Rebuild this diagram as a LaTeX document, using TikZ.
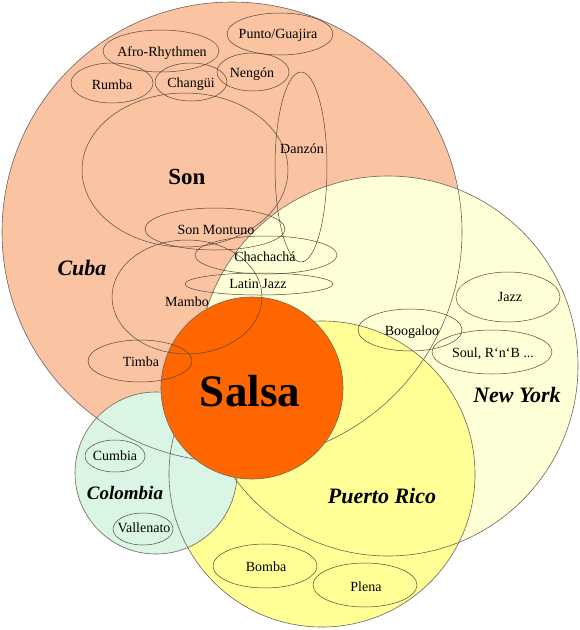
\documentclass[tikz,border=0pt]{standalone}
\usepackage{fontspec}
\setmainfont{Liberation Serif}
\usepackage{tikz}
\usepackage{xcolor}
\usetikzlibrary{calc}

\definecolor{cubaC}{RGB}{250,196,162}
\definecolor{nyC}{RGB}{255,255,215}
\definecolor{prC}{RGB}{255,255,150}
\definecolor{colC}{RGB}{218,245,228}
\definecolor{salsaC}{RGB}{255,102,0}
\definecolor{rimC}{RGB}{110,100,90}
\definecolor{genreC}{RGB}{85,70,60}

\begin{document}
\begin{tikzpicture}[x=1pt,y=-1pt]
        \tikzstyle{every node}=[inner sep=0pt, text height=9.2pt, text depth=0pt, font=\fontsize{14}{14}\selectfont]
        \tikzstyle{region}=[text height=14.5pt, font=\fontsize{22}{22}\selectfont\bfseries\itshape]
        \tikzstyle{rim}=[draw=rimC, line width=0.6pt]
        \tikzstyle{genre}=[draw=genreC, line width=0.5pt]

            \useasboundingbox (0,0) rectangle (580,630);
            \fill[white] (0,0) rectangle (580,630);

            \coordinate (CU) at (232,232);
            \coordinate (NY) at (388,366);
            \coordinate (PR) at (322,474);
            \coordinate (CO) at (156,473);
            \coordinate (SA) at (252,388);

            \fill[cubaC] (CU) circle (230);
            \fill[nyC] (NY) circle (190);
            \fill[prC] (PR) circle (153);
            \fill[colC] (CO) circle (81);

            \draw[rim] (CU) circle (230);
            \draw[rim] (NY) circle (190);
            \draw[rim] (PR) circle (153);
            \draw[rim] (CO) circle (81);

            \draw[rim, fill=salsaC] (SA) circle (91);

            % Cuba
            \draw[genre] (161,51) ellipse (58 and 21);
            \draw[genre] (280,34) ellipse (53 and 21);
            \draw[genre] (112,83) ellipse (41 and 20);
            \draw[genre] (191,82) ellipse (36 and 19);
            \draw[genre] (253,72) ellipse (36 and 19);
            \draw[genre] (301,167) ellipse (26 and 95);
            \draw[genre] (185,170) ellipse (103 and 77);
            \draw[genre] (215,229) ellipse (70 and 21);
            \draw[genre] (266,255) ellipse (71 and 19);
            \draw[genre] (259,284) ellipse (74 and 11);
            \draw[genre] (187,297) ellipse (75 and 57);
            \draw[genre] (140,361) ellipse (52 and 21);

            % New York
            \draw[genre] (508,297) ellipse (52 and 25);
            \draw[genre] (410,330) ellipse (52 and 21);
            \draw[genre] (492,352) ellipse (60 and 22);

            % Colombia, Puerto Rico
            \draw[genre] (115,456) ellipse (30 and 16);
            \draw[genre] (143,529) ellipse (30 and 16);
            \draw[genre] (265,566) ellipse (52 and 22);
            \draw[genre] (365,585) ellipse (52 and 22);

            \node (Afro) at (162,52) {Afro-Rhythmen};
            \node (Punto) at (278,34) {Punto/Guajira};
            \node (Rumba) at (112,85) {Rumba};
            \node (Changui) at (191,83) {Changüi};
            \node (Nengon) at (252,73) {Nengón};
            \node (Danzon) at (302,149) {Danzón};
            \node[text height=15.2pt, font=\fontsize{23}{23}\selectfont\bfseries] (Son) at (187,177) {Son};
            \node (Montuno) at (216,230) {Son Montuno};
            \node (Chacha) at (265,257) {Chachachá};
            \node (LJazz) at (258,284) {Latin Jazz};
            \node (Mambo) at (187,302) {Mambo};
            \node (Timba) at (141,362) {Timba};

            \node (Jazz) at (510,297) {Jazz};
            \node (Boogaloo) at (412,331) {Boogaloo};
            \node (Soul) at (493,353) {Soul, R‘n‘B ...};

            \node (Cumbia) at (115,456) {Cumbia};
            \node (Vallenato) at (144,528) {Vallenato};
            \node (Bomba) at (266,567) {Bomba};
            \node (Plena) at (366,587) {Plena};

            \node[region] (Cuba) at (82,268) {Cuba};
            \node[region] (NewYork) at (517,395) {New York};
            \node[region] (PuertoRico) at (382,496) {Puerto Rico};
            \node[region, text height=12.5pt, font=\fontsize{19}{19}\selectfont\bfseries\itshape] (Colombia) at (125,493) {Colombia};

            \node[text height=29.7pt, font=\fontsize{45}{45}\selectfont\bfseries] (Salsa) at (250,392) {Salsa};

        \end{tikzpicture}
\end{document}
